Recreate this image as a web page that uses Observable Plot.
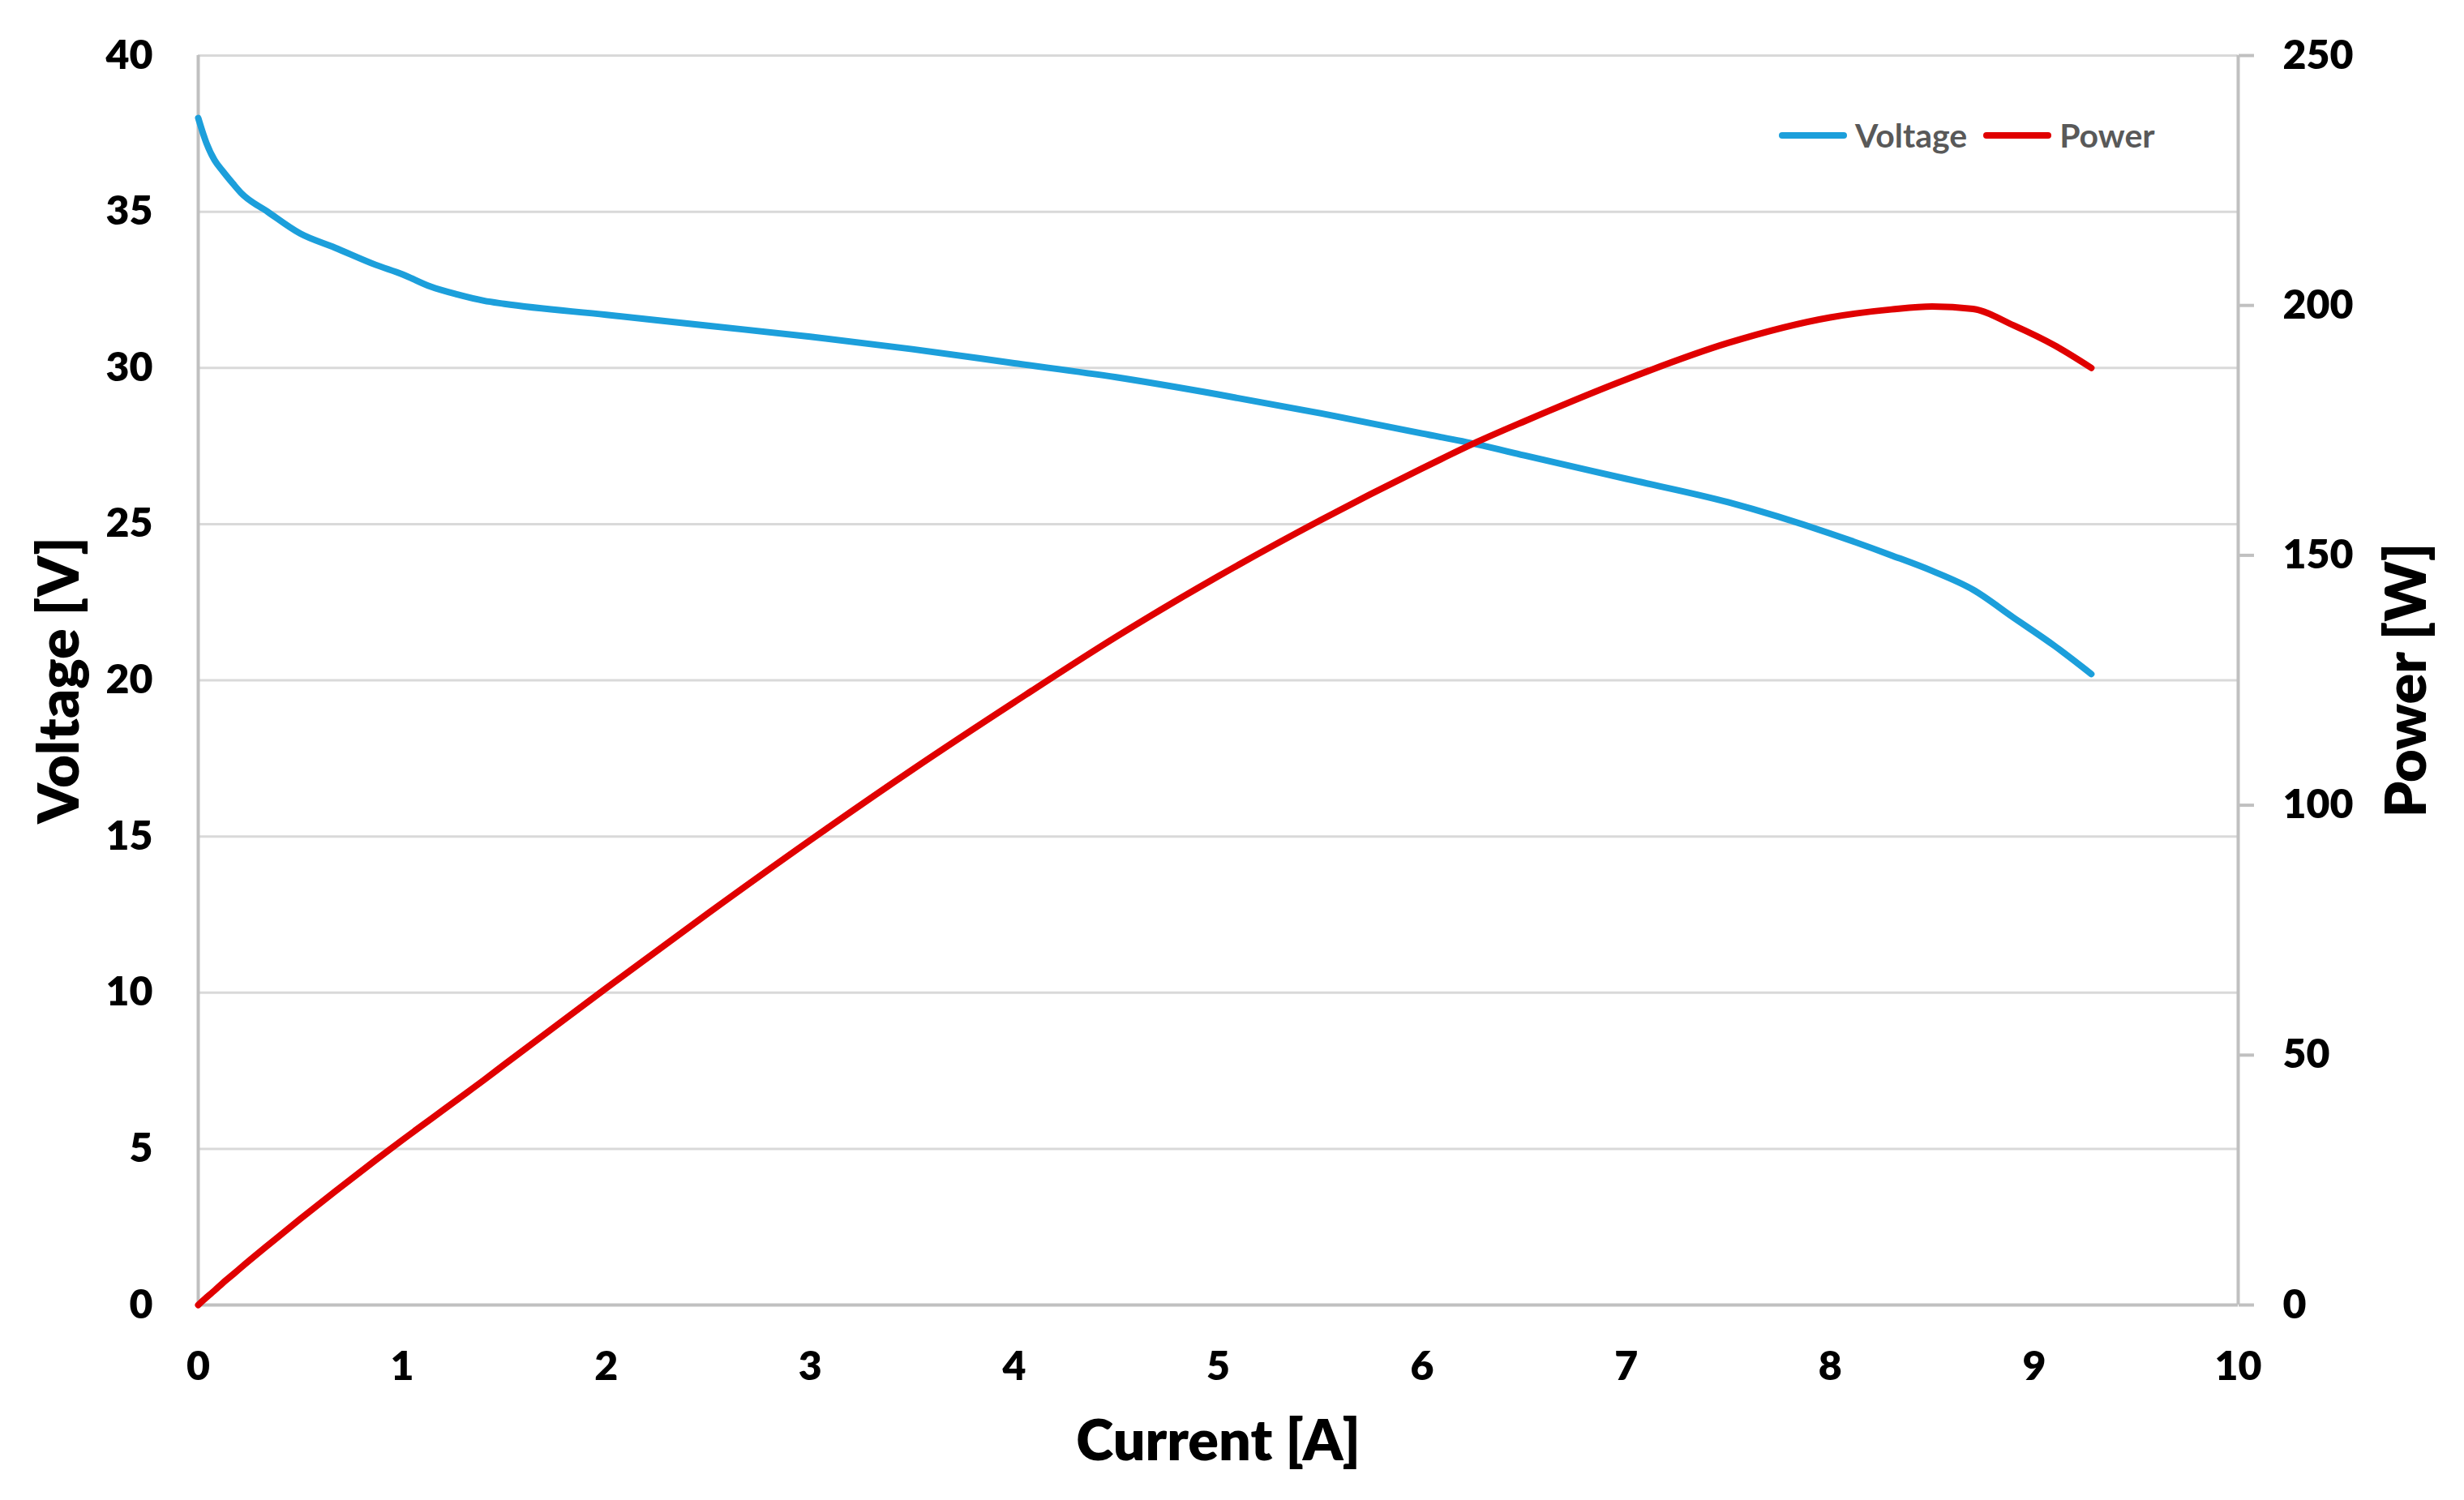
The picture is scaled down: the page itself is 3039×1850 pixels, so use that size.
<!DOCTYPE html>
<html>
<head>
<meta charset="utf-8">
<script src="https://cdn.jsdelivr.net/npm/d3@7"></script>
<script src="https://cdn.jsdelivr.net/npm/@observablehq/plot@0.6"></script>
<style>
  html, body { margin: 0; padding: 0; background: #ffffff; }
  #wrap { position: relative; width: 3039px; height: 1850px; font-family: Lato, "Open Sans", sans-serif; }
  .legend { position: absolute; top: 146px; left: 2194px; display: flex; align-items: center; font-size: 41px; font-weight: bold; color: #595959; line-height: 1; }
  .legend .sw { display: inline-block; width: 84px; height: 8px; border-radius: 4px; margin-right: 10px; }
  .legend .item { display: flex; align-items: center; margin-right: 20px; }
</style>
</head>
<body>
<div id="wrap"></div>
<script>
// Current [A]
const current = [0.00, 0.04, 0.08, 0.12, 0.17, 0.21, 0.34, 0.50, 0.67, 0.87, 1.00, 1.14, 1.27, 1.40, 1.50, 2.00, 2.50, 3.00, 3.50, 4.00, 4.50, 5.00, 5.50, 6.00, 6.27, 6.50, 7.00, 7.50, 8.00, 8.30, 8.50, 8.70, 8.90, 9.10, 9.28];
// Voltage [V]
const voltage = [38.0, 37.2, 36.65, 36.3, 35.9, 35.6, 35.0, 34.3, 33.85, 33.3, 33.0, 32.6, 32.35, 32.15, 32.05, 31.7, 31.35, 31.0, 30.6, 30.15, 29.7, 29.15, 28.55, 27.9, 27.55, 27.2, 26.45, 25.7, 24.7, 24.0, 23.5, 22.9, 22.0, 21.1, 20.2];
// Power [W]
const power = [0, 1.5, 2.9, 4.4, 6.1, 7.5, 11.9, 17.2, 22.7, 29.0, 33.0, 37.2, 41.1, 45.0, 48.1, 63.4, 78.4, 93.0, 107.1, 120.6, 133.7, 145.8, 157.0, 167.4, 172.7, 176.8, 185.2, 192.5, 197.6, 199.2, 199.8, 199.3, 196.0, 192.0, 187.5];

const xTicks = [0, 1, 2, 3, 4, 5, 6, 7, 8, 9, 10];
const vTicks = [0, 5, 10, 15, 20, 25, 30, 35, 40];
const pTicks = [0, 50, 100, 150, 200, 250];
const seriesNames = ["Voltage", "Power"];
const seriesColors = ["#1c9fdb", "#e00000"];

const k = 40 / 250; // power -> voltage axis
const rows = current.map((I, i) => ({I, V: voltage[i], P: power[i]}));

const chart = Plot.plot({
  width: 3039,
  height: 1850,
  marginLeft: 244,
  marginRight: 279,
  marginTop: 68,
  marginBottom: 241,
  style: {fontFamily: "Lato, 'Open Sans', sans-serif", fontWeight: "800", fontSize: "50px", color: "#000", background: "#fff"},
  x: {domain: [0, 10]},
  y: {domain: [0, 40]},
  marks: [
    Plot.gridY(vTicks, {stroke: "#d9d9d9", strokeOpacity: 1, strokeWidth: 3}),
    Plot.ruleY([0], {stroke: "#c0c0c0", strokeWidth: 4}),
    Plot.ruleX([0, 10], {stroke: "#c0c0c0", strokeWidth: 4}),
    Plot.axisX(xTicks, {tickSize: 0, tickPadding: 57, label: null, fill: "#000", tickFormat: d => String(d)}),
    Plot.axisY(vTicks, {anchor: "left", tickSize: 0, tickPadding: 56, label: null, fill: "#000", tickFormat: d => String(d)}),
    Plot.axisY(pTicks.map(p => p * k), {anchor: "right", tickSize: 19, tickPadding: 36, stroke: "#c0c0c0", strokeWidth: 4, fill: "#000", label: null, tickFormat: v => String(Math.round(v / k))}),
    Plot.line(rows, {x: "I", y: "V", stroke: seriesColors[0], strokeWidth: 8, curve: "monotone-x", strokeLinecap: "round", strokeLinejoin: "round"}),
    Plot.line(rows, {x: "I", y: d => d.P * k, stroke: seriesColors[1], strokeWidth: 8, curve: "monotone-x", strokeLinecap: "round", strokeLinejoin: "round"}),
    Plot.text(["Current [A]"], {frameAnchor: "bottom", dy: 191, fontSize: 70, fontWeight: "800", fill: "#000"}),
    Plot.text(["Voltage [V]"], {frameAnchor: "left", textAnchor: "middle", dx: -170, rotate: -90, fontSize: 70, fontWeight: "800", fill: "#000"}),
    Plot.text(["Power [W]"], {frameAnchor: "right", textAnchor: "middle", dx: 209, rotate: -90, fontSize: 70, fontWeight: "800", fill: "#000"})
  ]
});

const wrap = document.getElementById("wrap");
wrap.appendChild(chart);

const legend = document.createElement("div");
legend.className = "legend";
seriesNames.forEach((name, i) => {
  const item = document.createElement("div");
  item.className = "item";
  const sw = document.createElement("span");
  sw.className = "sw";
  sw.style.background = seriesColors[i];
  const label = document.createElement("span");
  label.textContent = name;
  item.appendChild(sw);
  item.appendChild(label);
  legend.appendChild(item);
});
wrap.appendChild(legend);
</script>
</body>
</html>
